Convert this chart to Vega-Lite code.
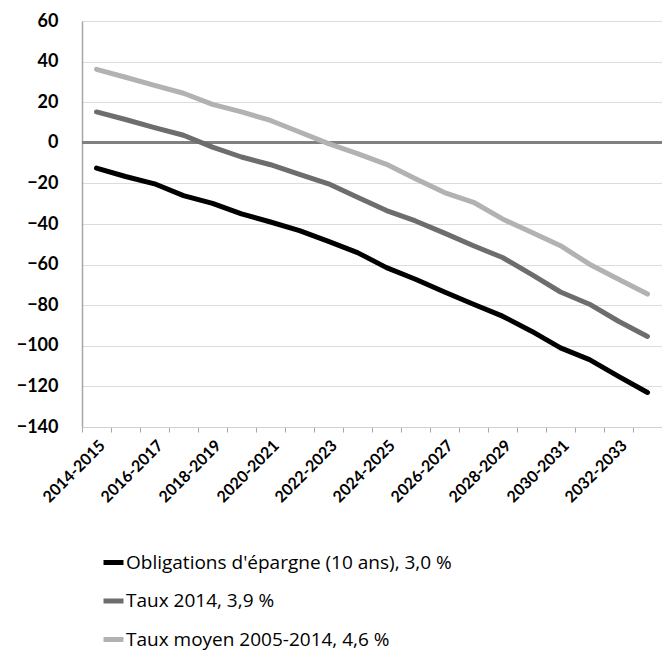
{
  "$schema": "https://vega.github.io/schema/vega-lite/v6.json",
  "autosize": "none",
  "width": 580,
  "height": 406,
  "padding": {"left": 82, "top": 21, "right": 0, "bottom": 226},
  "background": "white",
  "config": {
    "view": {"stroke": null},
    "axisY": {"grid": true, "gridColor": "#dcdcdc", "gridWidth": 1.2}
  },
  "datasets": {
    "series": [
      {"periode": "2014-2015", "serie": "Obligations d'épargne (10 ans), 3,0 %", "valeur": -12.5},
      {"periode": "2015-2016", "serie": "Obligations d'épargne (10 ans), 3,0 %", "valeur": -16.6},
      {"periode": "2016-2017", "serie": "Obligations d'épargne (10 ans), 3,0 %", "valeur": -20.2},
      {"periode": "2017-2018", "serie": "Obligations d'épargne (10 ans), 3,0 %", "valeur": -26.0},
      {"periode": "2018-2019", "serie": "Obligations d'épargne (10 ans), 3,0 %", "valeur": -29.8},
      {"periode": "2019-2020", "serie": "Obligations d'épargne (10 ans), 3,0 %", "valeur": -35.0},
      {"periode": "2020-2021", "serie": "Obligations d'épargne (10 ans), 3,0 %", "valeur": -39.0},
      {"periode": "2021-2022", "serie": "Obligations d'épargne (10 ans), 3,0 %", "valeur": -43.3},
      {"periode": "2022-2023", "serie": "Obligations d'épargne (10 ans), 3,0 %", "valeur": -48.6},
      {"periode": "2023-2024", "serie": "Obligations d'épargne (10 ans), 3,0 %", "valeur": -54.1},
      {"periode": "2024-2025", "serie": "Obligations d'épargne (10 ans), 3,0 %", "valeur": -61.5},
      {"periode": "2025-2026", "serie": "Obligations d'épargne (10 ans), 3,0 %", "valeur": -67.2},
      {"periode": "2026-2027", "serie": "Obligations d'épargne (10 ans), 3,0 %", "valeur": -73.5},
      {"periode": "2027-2028", "serie": "Obligations d'épargne (10 ans), 3,0 %", "valeur": -79.5},
      {"periode": "2028-2029", "serie": "Obligations d'épargne (10 ans), 3,0 %", "valeur": -85.4},
      {"periode": "2029-2030", "serie": "Obligations d'épargne (10 ans), 3,0 %", "valeur": -92.8},
      {"periode": "2030-2031", "serie": "Obligations d'épargne (10 ans), 3,0 %", "valeur": -101.0},
      {"periode": "2031-2032", "serie": "Obligations d'épargne (10 ans), 3,0 %", "valeur": -106.8},
      {"periode": "2032-2033", "serie": "Obligations d'épargne (10 ans), 3,0 %", "valeur": -115.1},
      {"periode": "2033-2034", "serie": "Obligations d'épargne (10 ans), 3,0 %", "valeur": -123.0},
      {"periode": "2014-2015", "serie": "Taux 2014, 3,9 %", "valeur": 15.2},
      {"periode": "2015-2016", "serie": "Taux 2014, 3,9 %", "valeur": 11.5},
      {"periode": "2016-2017", "serie": "Taux 2014, 3,9 %", "valeur": 7.5},
      {"periode": "2017-2018", "serie": "Taux 2014, 3,9 %", "valeur": 3.7},
      {"periode": "2018-2019", "serie": "Taux 2014, 3,9 %", "valeur": -2.1},
      {"periode": "2019-2020", "serie": "Taux 2014, 3,9 %", "valeur": -7.0},
      {"periode": "2020-2021", "serie": "Taux 2014, 3,9 %", "valeur": -10.8},
      {"periode": "2021-2022", "serie": "Taux 2014, 3,9 %", "valeur": -15.6},
      {"periode": "2022-2023", "serie": "Taux 2014, 3,9 %", "valeur": -20.2},
      {"periode": "2023-2024", "serie": "Taux 2014, 3,9 %", "valeur": -26.8},
      {"periode": "2024-2025", "serie": "Taux 2014, 3,9 %", "valeur": -33.4},
      {"periode": "2025-2026", "serie": "Taux 2014, 3,9 %", "valeur": -38.5},
      {"periode": "2026-2027", "serie": "Taux 2014, 3,9 %", "valeur": -44.5},
      {"periode": "2027-2028", "serie": "Taux 2014, 3,9 %", "valeur": -50.7},
      {"periode": "2028-2029", "serie": "Taux 2014, 3,9 %", "valeur": -56.5},
      {"periode": "2029-2030", "serie": "Taux 2014, 3,9 %", "valeur": -64.8},
      {"periode": "2030-2031", "serie": "Taux 2014, 3,9 %", "valeur": -73.5},
      {"periode": "2031-2032", "serie": "Taux 2014, 3,9 %", "valeur": -79.5},
      {"periode": "2032-2033", "serie": "Taux 2014, 3,9 %", "valeur": -87.9},
      {"periode": "2033-2034", "serie": "Taux 2014, 3,9 %", "valeur": -95.4},
      {"periode": "2014-2015", "serie": "Taux moyen 2005-2014, 4,6 %", "valeur": 36.2},
      {"periode": "2015-2016", "serie": "Taux moyen 2005-2014, 4,6 %", "valeur": 32.3},
      {"periode": "2016-2017", "serie": "Taux moyen 2005-2014, 4,6 %", "valeur": 28.3},
      {"periode": "2017-2018", "serie": "Taux moyen 2005-2014, 4,6 %", "valeur": 24.4},
      {"periode": "2018-2019", "serie": "Taux moyen 2005-2014, 4,6 %", "valeur": 18.9},
      {"periode": "2019-2020", "serie": "Taux moyen 2005-2014, 4,6 %", "valeur": 15.2},
      {"periode": "2020-2021", "serie": "Taux moyen 2005-2014, 4,6 %", "valeur": 11.0},
      {"periode": "2021-2022", "serie": "Taux moyen 2005-2014, 4,6 %", "valeur": 5.3},
      {"periode": "2022-2023", "serie": "Taux moyen 2005-2014, 4,6 %", "valeur": -0.4},
      {"periode": "2023-2024", "serie": "Taux moyen 2005-2014, 4,6 %", "valeur": -5.3},
      {"periode": "2024-2025", "serie": "Taux moyen 2005-2014, 4,6 %", "valeur": -10.6},
      {"periode": "2025-2026", "serie": "Taux moyen 2005-2014, 4,6 %", "valeur": -17.7},
      {"periode": "2026-2027", "serie": "Taux moyen 2005-2014, 4,6 %", "valeur": -24.5},
      {"periode": "2027-2028", "serie": "Taux moyen 2005-2014, 4,6 %", "valeur": -29.3},
      {"periode": "2028-2029", "serie": "Taux moyen 2005-2014, 4,6 %", "valeur": -37.5},
      {"periode": "2029-2030", "serie": "Taux moyen 2005-2014, 4,6 %", "valeur": -44.1},
      {"periode": "2030-2031", "serie": "Taux moyen 2005-2014, 4,6 %", "valeur": -50.7},
      {"periode": "2031-2032", "serie": "Taux moyen 2005-2014, 4,6 %", "valeur": -59.8},
      {"periode": "2032-2033", "serie": "Taux moyen 2005-2014, 4,6 %", "valeur": -67.2},
      {"periode": "2033-2034", "serie": "Taux moyen 2005-2014, 4,6 %", "valeur": -74.5}
    ]
  },
  "data": {"name": "series"},
  "encoding": {
    "x": {
      "field": "periode",
      "type": "ordinal",
      "scale": {"type": "band", "paddingInner": 0, "paddingOuter": 0},
      "axis": {
        "title": null,
        "labelAngle": -45,
        "labelFont": "Lato",
        "labelFontWeight": "bold",
        "labelFontSize": 16,
        "labelColor": "#000000",
        "labelExpr": "parseInt(substring(datum.value, 0, 4)) % 2 == 0 ? datum.label : ''",
        "tickBand": "extent",
        "tickSize": 5,
        "tickColor": "#a6a6a6",
        "domainColor": "#d0d0d0",
        "labelPadding": 5,
        "labelDx": -6,
        "grid": false
      }
    },
    "y": {
      "field": "valeur",
      "type": "quantitative",
      "scale": {"domain": [-140, 60], "nice": false},
      "axis": {
        "title": null,
        "grid": true,
        "values": [-140, -120, -100, -80, -60, -40, -20, 0, 20, 40, 60],
        "labelFont": "Lato",
        "labelFontWeight": "bold",
        "labelFontSize": 18,
        "labelColor": "#000000",
        "labelPadding": 24,
        "ticks": false,
        "domainColor": "#a6a6a6",
        "domainWidth": 1.5,
        "gridColor": "#dcdcdc",
        "gridWidth": 1.2
      }
    }
  },
  "layer": [
    {
      "mark": {"type": "rule", "color": "#808080", "strokeWidth": 2},
      "encoding": {"y": {"datum": 0, "type": "quantitative"}, "x": null}
    },
    {
      "mark": {"type": "line", "strokeWidth": 5, "strokeCap": "round", "strokeJoin": "round"},
      "encoding": {
        "color": {
          "field": "serie",
          "type": "nominal",
          "scale": {
            "domain": ["Obligations d'épargne (10 ans), 3,0 %", "Taux 2014, 3,9 %", "Taux moyen 2005-2014, 4,6 %"],
            "range": ["#000000", "#6d6d6d", "#b2b2b2"]
          },
          "legend": {
            "title": null,
            "orient": "none",
            "legendX": 19,
            "legendY": 529,
            "direction": "vertical",
            "symbolType": "stroke",
            "symbolSize": 400,
            "symbolStrokeWidth": 5,
            "labelFont": "Open Sans",
            "labelFontSize": 19,
            "labelColor": "#000000",
            "labelOffset": 0,
            "labelLimit": 500,
            "rowPadding": 15.5
          }
        }
      }
    }
  ]
}
